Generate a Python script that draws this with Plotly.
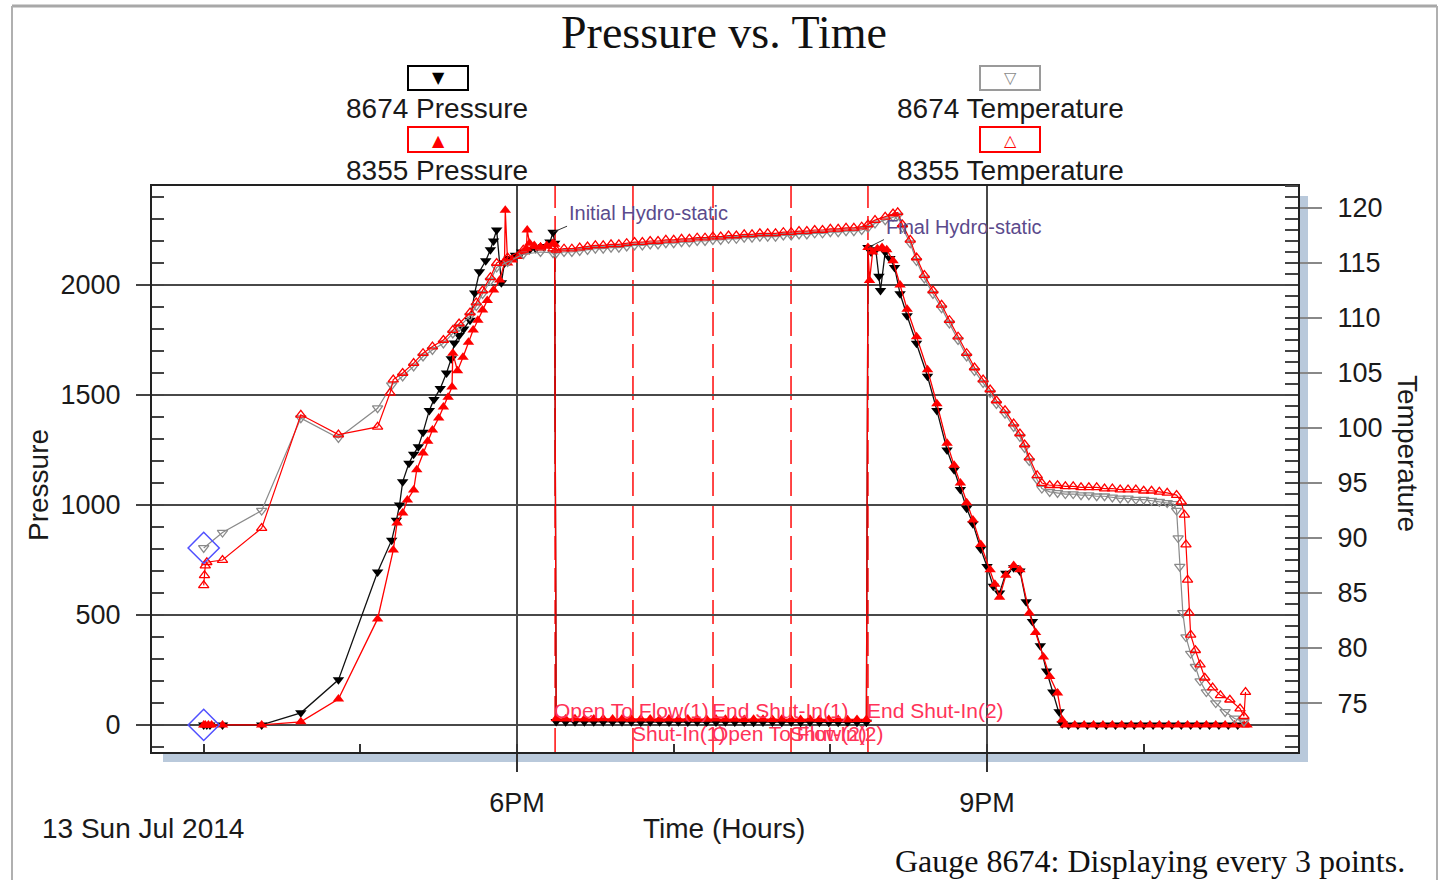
import plotly.graph_objects as go

# ---------------- data (time in decimal hours, 13 Jul 2014) ----------------
t_p8674 = [16.00, 16.02, 16.04, 16.12, 16.37, 16.62, 16.86, 17.11, 17.20, 17.23,
           17.25, 17.27, 17.31, 17.34, 17.37, 17.40, 17.44, 17.47, 17.51, 17.55,
           17.58, 17.60, 17.63, 17.66, 17.70, 17.73, 17.76, 17.80, 17.83, 17.85,
           17.87, 17.90, 17.92, 17.95, 17.99, 18.03, 18.08, 18.12, 18.17, 18.21,
           18.23, 18.24, 18.25, 18.31, 18.37, 18.43, 18.49, 18.55, 18.61, 18.67,
           18.73, 18.79, 18.85, 18.91, 18.97, 19.03, 19.09, 19.15, 19.21, 19.27,
           19.33, 19.39, 19.45, 19.51, 19.57, 19.63, 19.69, 19.75, 19.81, 19.87,
           19.93, 19.99, 20.05, 20.11, 20.17, 20.23, 20.24, 20.26, 20.29, 20.31,
           20.32, 20.35, 20.38, 20.41, 20.445, 20.49, 20.55, 20.62, 20.68, 20.745,
           20.79, 20.83, 20.87, 20.91, 20.96, 21.00, 21.04, 21.08, 21.12, 21.17,
           21.21, 21.25, 21.29, 21.34, 21.38, 21.42, 21.46, 21.48, 21.52, 21.58,
           21.64, 21.70, 21.76, 21.82, 21.88, 21.94, 22.00, 22.06, 22.12, 22.18,
           22.24, 22.30, 22.36, 22.42, 22.48, 22.54, 22.60]
p8674 = [0, 0, 0, 0, 0, 55, 205, 695, 840, 930,
         1000, 1105, 1190, 1230, 1265, 1330, 1430, 1480, 1530, 1600,
         1665, 1736, 1770, 1800, 1840, 1964, 2060, 2110, 2160, 2200,
         2250, 2010, 2100, 2120, 2135, 2150, 2160, 2165, 2175, 2195,
         2240, 2190, 16, 15, 15, 14, 15, 14, 14, 15,
         14, 13, 14, 14, 13, 14, 13, 14, 13, 13,
         14, 13, 13, 12, 13, 13, 12, 13, 12, 13,
         12, 12, 12, 12, 12, 12, 2170, 2150, 2160, 2040,
         1975, 2150, 2120, 2080, 1960, 1860, 1735, 1585, 1430, 1250,
         1160, 1070, 985, 915, 800, 720, 630, 600, 690, 715,
         700, 560, 470, 360, 245, 150, 60, 5, 0, 0,
         0, 0, 0, 0, 0, 0, 0, 0, 0, 0,
         0, 0, 0, 0, 0, 0, 0]

t_p8355 = [16.00, 16.01, 16.03, 16.05, 16.12, 16.37, 16.62, 16.86, 17.11, 17.21,
           17.234, 17.27, 17.30, 17.34, 17.36, 17.40, 17.43, 17.46, 17.50, 17.53,
           17.56, 17.585, 17.59, 17.62, 17.655, 17.69, 17.72, 17.75, 17.78, 17.81,
           17.85, 17.89, 17.92, 17.925, 17.94, 17.97, 18.01, 18.04, 18.06, 18.065,
           18.08, 18.11, 18.15, 18.19, 18.23, 18.24, 18.25, 18.31, 18.37, 18.43,
           18.49, 18.55, 18.61, 18.67, 18.73, 18.79, 18.85, 18.91, 18.97, 19.03,
           19.09, 19.15, 19.21, 19.27, 19.33, 19.39, 19.45, 19.51, 19.57, 19.63,
           19.69, 19.75, 19.81, 19.87, 19.93, 19.99, 20.05, 20.11, 20.17, 20.23,
           20.24, 20.25, 20.27, 20.30, 20.33, 20.36, 20.40, 20.445, 20.49, 20.55,
           20.62, 20.68, 20.745, 20.79, 20.83, 20.87, 20.91, 20.96, 21.02, 21.05,
           21.08, 21.12, 21.17, 21.21, 21.27, 21.31, 21.36, 21.40, 21.45, 21.48,
           21.50, 21.56, 21.62, 21.68, 21.74, 21.80, 21.86, 21.92, 21.98, 22.04,
           22.10, 22.16, 22.22, 22.28, 22.34, 22.40, 22.46, 22.52, 22.58, 22.64,
           22.66]
p8355 = [0, 0, 0, 0, 0, 0, 14, 118, 482, 795,
         918, 964, 1023, 1068, 1160, 1236, 1290, 1341, 1395, 1445,
         1490, 1536, 1690, 1610, 1672, 1740, 1795, 1840, 1886, 1930,
         1977, 2023, 2100, 2340, 2100, 2114, 2130, 2150, 2165, 2250,
         2190, 2180, 2173, 2180, 2190, 2185, 28, 27, 28, 27,
         27, 28, 27, 27, 26, 27, 27, 26, 27, 26,
         27, 26, 26, 27, 26, 26, 25, 26, 26, 25,
         26, 25, 25, 26, 25, 25, 25, 24, 25, 25,
         2170, 2020, 2150, 2165, 2170, 2160, 2110, 2000, 1890, 1765,
         1615, 1460, 1280, 1180, 1100, 1010, 932, 820, 705, 640,
         580, 680, 725, 705, 509, 420, 309, 220, 145, 23,
         0, 0, 0, 0, 0, 0, 0, 0, 0, 0,
         0, 0, 0, 0, 0, 0, 0, 0, 0, 0,
         0]

t_t8674 = [16.00, 16.12, 16.37, 16.62, 16.86, 17.11, 17.20, 17.27, 17.34, 17.40,
           17.46, 17.53, 17.59, 17.63, 17.70, 17.74, 17.78, 17.83, 17.87, 17.94,
           18.04, 18.15, 18.23, 18.25, 18.30, 18.35, 18.40, 18.45, 18.50, 18.55,
           18.60, 18.65, 18.70, 18.75, 18.80, 18.85, 18.90, 18.95, 19.00, 19.05,
           19.10, 19.15, 19.20, 19.25, 19.30, 19.35, 19.40, 19.45, 19.50, 19.55,
           19.60, 19.65, 19.70, 19.75, 19.80, 19.85, 19.90, 19.95, 20.00, 20.05,
           20.10, 20.15, 20.20, 20.24, 20.285, 20.35, 20.40, 20.43, 20.46, 20.51,
           20.55, 20.60, 20.655, 20.71, 20.76, 20.815, 20.87, 20.92, 20.975, 21.02,
           21.06, 21.115, 21.17, 21.21, 21.24, 21.27, 21.32, 21.35, 21.40, 21.45,
           21.50, 21.55, 21.60, 21.65, 21.70, 21.75, 21.80, 21.85, 21.90, 21.95,
           22.00, 22.05, 22.10, 22.15, 22.19, 22.21, 22.22, 22.23, 22.25, 22.27,
           22.30, 22.33, 22.36, 22.40, 22.46, 22.52, 22.58, 22.64]
t8674 = [89.1, 90.5, 92.5, 100.9, 99.1, 101.8, 103.9, 104.7, 105.6, 106.5,
         107.1, 107.7, 108.6, 109.2, 110.2, 111.1, 112.2, 113.4, 114.6, 115.1,
         115.8, 116.0, 115.9, 115.9, 116.0, 116.0, 116.1, 116.2, 116.3, 116.3,
         116.4, 116.4, 116.5, 116.6, 116.6, 116.7, 116.7, 116.8, 116.8, 116.9,
         116.9, 117.0, 117.0, 117.1, 117.1, 117.2, 117.2, 117.3, 117.3, 117.4,
         117.4, 117.4, 117.5, 117.5, 117.6, 117.6, 117.7, 117.7, 117.8, 117.8,
         117.9, 117.9, 118.0, 118.2, 118.6, 118.9, 119.2, 119.3, 118.2, 116.8,
         115.2, 113.6, 112.2, 110.9, 109.5, 108.0, 106.5, 105.2, 104.1, 103.2,
         102.2, 101.3, 100.1, 99.2, 98.2, 97.0, 95.3, 94.5, 94.2, 94.1,
         94.0, 94.0, 93.9, 93.9, 93.8, 93.8, 93.7, 93.6, 93.6, 93.5,
         93.5, 93.4, 93.3, 93.2, 93.1, 92.5, 90.0, 87.4, 83.2, 81.0,
         79.5, 78.3, 77.0, 76.0, 75.0, 74.2, 73.6, 73.3]

t_t8355 = [16.00, 16.005, 16.01, 16.02, 16.12, 16.37, 16.62, 16.86, 17.11, 17.19,
           17.21, 17.27, 17.34, 17.40, 17.46, 17.53, 17.59, 17.63, 17.70, 17.74,
           17.78, 17.83, 17.87, 17.94, 18.04, 18.15, 18.23, 18.25, 18.30, 18.35,
           18.40, 18.45, 18.50, 18.55, 18.60, 18.65, 18.70, 18.75, 18.80, 18.85,
           18.90, 18.95, 19.00, 19.05, 19.10, 19.15, 19.20, 19.25, 19.30, 19.35,
           19.40, 19.45, 19.50, 19.55, 19.60, 19.65, 19.70, 19.75, 19.80, 19.85,
           19.90, 19.95, 20.00, 20.05, 20.10, 20.15, 20.20, 20.24, 20.285, 20.35,
           20.40, 20.43, 20.46, 20.51, 20.55, 20.60, 20.655, 20.71, 20.76, 20.815,
           20.87, 20.92, 20.975, 21.02, 21.06, 21.115, 21.17, 21.21, 21.24, 21.27,
           21.32, 21.35, 21.40, 21.45, 21.50, 21.55, 21.60, 21.65, 21.70, 21.75,
           21.80, 21.85, 21.90, 21.95, 22.00, 22.05, 22.10, 22.15, 22.21, 22.24,
           22.26, 22.27, 22.28, 22.29, 22.30, 22.33, 22.36, 22.39, 22.44, 22.49,
           22.55, 22.615, 22.64, 22.65]
t8355 = [85.7, 86.6, 87.5, 87.8, 88.0, 90.9, 101.2, 99.4, 100.1, 103.2,
         104.4, 105.0, 105.9, 106.8, 107.4, 108.0, 108.9, 109.5, 110.5, 111.4,
         112.5, 113.7, 115.0, 115.5, 116.2, 116.4, 116.3, 116.2, 116.3, 116.3,
         116.4, 116.5, 116.6, 116.6, 116.7, 116.7, 116.8, 116.9, 116.9, 117.0,
         117.0, 117.1, 117.1, 117.2, 117.2, 117.3, 117.3, 117.4, 117.4, 117.5,
         117.5, 117.6, 117.6, 117.7, 117.7, 117.7, 117.8, 117.8, 117.9, 117.9,
         118.0, 118.0, 118.1, 118.1, 118.2, 118.2, 118.3, 118.5, 118.9, 119.2,
         119.5, 119.6, 118.5, 117.1, 115.5, 113.9, 112.5, 111.2, 109.8, 108.3,
         106.8, 105.5, 104.4, 103.5, 102.5, 101.6, 100.4, 99.5, 98.5, 97.3,
         95.7, 95.0, 94.8, 94.8, 94.7, 94.7, 94.6, 94.6, 94.6, 94.5,
         94.5, 94.4, 94.4, 94.4, 94.3, 94.3, 94.2, 94.1, 93.9, 93.3,
         92.1, 89.4, 86.2, 83.2, 81.2, 79.8, 78.5, 77.3, 76.4, 75.7,
         75.3, 74.5, 73.8, 76.0]

event_names = ["Open To Flow(1)", "Shut-In(1)", "End Shut-In(1)",
               "Open To Flow(2)", "Shut-In(2)", "End Shut-In(2)"]
event_times = [18.243, 18.740, 19.251, 19.251, 19.749, 20.240]
event_row = [0, 1, 0, 1, 1, 0]   # 0 = upper label row, 1 = lower label row

series_names = ["8674 Pressure", "8355 Pressure", "8674 Temperature", "8355 Temperature"]

# ---------------- layout helpers (pixel -> paper) ----------------
W, H = 1442, 880
L, R, T, B = 152, 1298, 186, 752


def px(x):
    return (x - L) / (R - L)


def py(y):
    return (B - y) / (B - T)


SANS = "Liberation Sans, Arial, sans-serif"
SERIF = "Liberation Serif, Times New Roman, serif"
RED = "#ff0000"
GRAY = "#8a8a8a"
EVT = "#ff3358"

fig = go.Figure()

fig.add_trace(go.Scatter(
    x=t_t8674, y=t8674, yaxis="y2", mode="lines+markers", name=series_names[2],
    line=dict(color=GRAY, width=1.2),
    marker=dict(symbol="triangle-down-open", size=9, color=GRAY, line=dict(width=1.3))))
fig.add_trace(go.Scatter(
    x=t_t8355, y=t8355, yaxis="y2", mode="lines+markers", name=series_names[3],
    line=dict(color=RED, width=1.2),
    marker=dict(symbol="triangle-up-open", size=9, color=RED, line=dict(width=1.3))))
fig.add_trace(go.Scatter(
    x=t_p8674, y=p8674, mode="lines+markers", name=series_names[0],
    line=dict(color="#111111", width=1.3),
    marker=dict(symbol="triangle-down", size=10, color="#000000")))
fig.add_trace(go.Scatter(
    x=t_p8355, y=p8355, mode="lines+markers", name=series_names[1],
    line=dict(color=RED, width=1.3),
    marker=dict(symbol="triangle-up", size=10, color=RED)))

# start-point diamonds
fig.add_trace(go.Scatter(
    x=[t_p8674[0]], y=[p8674[0]], mode="markers",
    marker=dict(symbol="diamond-open", size=24, color="#5050ff", line=dict(width=1.5))))
fig.add_trace(go.Scatter(
    x=[t_t8674[0]], y=[t8674[0]], yaxis="y2", mode="markers",
    marker=dict(symbol="diamond-open", size=24, color="#5050ff", line=dict(width=1.5))))

shapes = [
    dict(type="rect", xref="paper", yref="paper", x0=px(163), x1=px(1308), y0=py(762), y1=py(196),
         fillcolor="#b9c9db", line=dict(width=0), layer="below"),
    dict(type="rect", xref="paper", yref="paper", x0=0, x1=1, y0=0, y1=1,
         fillcolor="white", line=dict(width=0), layer="below"),
    # outer frame
    dict(type="line", xref="paper", yref="paper", x0=px(12), x1=px(1437), y0=py(6), y1=py(6),
         line=dict(color="#a8a8a8", width=3)),
    dict(type="line", xref="paper", yref="paper", x0=px(12), x1=px(12), y0=py(6), y1=py(880),
         line=dict(color="#b0b0b0", width=2)),
    dict(type="line", xref="paper", yref="paper", x0=px(1437), x1=px(1437), y0=py(6), y1=py(880),
         line=dict(color="#b0b0b0", width=2)),
]
for tm in sorted(set(event_times)):
    shapes.append(dict(type="line", xref="x", yref="paper", x0=tm, x1=tm, y0=0, y1=1,
                       line=dict(color="rgba(255,0,0,0.9)", width=1.6, dash="24px,8px"),
                       layer="below"))

# legend boxes
legend_boxes = [(408, 66, 468, 90, "#000000"), (408, 127, 468, 152, RED),
                (980, 66, 1040, 90, "#9a9a9a"), (980, 127, 1040, 152, RED)]
for x0, y0, x1, y1, c in legend_boxes:
    shapes.append(dict(type="rect", xref="paper", yref="paper", x0=px(x0), x1=px(x1),
                       y0=py(y1), y1=py(y0), line=dict(color=c, width=2), fillcolor="white"))

ann = []


def txt(x, y, s, size=28, color="#1a1a1a", family=SANS, xanchor="center", angle=0):
    ann.append(dict(xref="paper", yref="paper", x=px(x), y=py(y), text=s, showarrow=False,
                    xanchor=xanchor, yanchor="middle", textangle=angle,
                    font=dict(size=size, color=color, family=family)))


txt(724, 32, "Pressure vs. Time", size=46, family=SERIF, color="#111111")
txt(437, 109, series_names[0])
txt(437, 170, series_names[1])
txt(1010, 109, series_names[2])
txt(1010, 170, series_names[3])
txt(438, 78, "▼", size=16, color="#000000", family="DejaVu Sans")
txt(438, 140, "▲", size=16, color=RED, family="DejaVu Sans")
txt(1010, 78, "▽", size=16, color="#8a8a8a", family="DejaVu Sans")
txt(1010, 140, "△", size=16, color=RED, family="DejaVu Sans")
txt(38, 485, "Pressure", angle=-90)
txt(1408, 453, "Temperature", angle=90)
txt(40, 828, "13 Sun Jul 2014", xanchor="left")
txt(724, 828, "Time (Hours)")
txt(1407, 861, "Gauge 8674: Displaying every 3 points.", size=32, family=SERIF,
    xanchor="right", color="#111111")

row_y = [710, 733]
for name, tm, rw in zip(event_names, event_times, event_row):
    ann.append(dict(xref="x", yref="paper", x=tm, y=py(row_y[rw]), text=name, showarrow=False,
                    xanchor="left", yanchor="middle", xshift=-3,
                    font=dict(size=21, color=EVT, family=SANS)))

# hydrostatic annotations (arrow to the data point)
i_init = max(range(len(t_p8674)), key=lambda i: p8674[i] if 18.1 < t_p8674[i] < 18.25 else -1)
ann.append(dict(xref="x", yref="y", x=t_p8674[i_init], y=p8674[i_init], text="Initial Hydro-static",
                showarrow=True, arrowhead=0, arrowwidth=1, arrowcolor="#333333", ax=14, ay=-6,
                xanchor="left", yanchor="bottom", font=dict(size=20, color="#5b4a8c", family=SANS)))
i_fin = t_p8674.index(20.24)
ann.append(dict(xref="x", yref="y", x=t_p8674[i_fin], y=p8674[i_fin], text="Final Hydro-static",
                showarrow=True, arrowhead=0, arrowwidth=1, arrowcolor="#333333", ax=16, ay=-8,
                xanchor="left", yanchor="bottom", font=dict(size=20, color="#5b4a8c", family=SANS)))

fig.update_layout(
    width=W, height=H,
    margin=dict(l=L, r=W - R, t=T, b=H - B, pad=0),
    paper_bgcolor="white", plot_bgcolor="white", showlegend=False,
    font=dict(family=SANS, size=27, color="#1a1a1a"),
    xaxis=dict(range=[15.67, 22.985], tickmode="linear", tick0=18, dtick=3,
               labelalias={18: "6PM", 21: "9PM"},
               ticks="outside", ticklen=18, tickwidth=1.5, tickcolor="#333333",
               showgrid=True, gridcolor="#484848", gridwidth=1.5,
               showline=True, linecolor="#222222", linewidth=2, mirror=True, zeroline=False,
               ticklabelstandoff=8,
               minor=dict(tickmode="linear", tick0=16, dtick=1, ticks="inside", ticklen=8,
                          tickcolor="#333333", tickwidth=1.5, showgrid=False)),
    yaxis=dict(range=[-123, 2450], tickmode="linear", tick0=0, dtick=500,
               ticks="outside", ticklen=14, tickwidth=1.5, tickcolor="#444444",
               showgrid=True, gridcolor="#484848", gridwidth=1.5,
               showline=True, linecolor="#222222", linewidth=2, zeroline=False,
               ticklabelstandoff=10,
               minor=dict(tickmode="linear", tick0=0, dtick=100, ticks="inside", ticklen=12,
                          tickcolor="#444444", tickwidth=1.5, showgrid=False)),
    yaxis2=dict(range=[70.55, 122.0], overlaying="y", side="right",
                tickmode="linear", tick0=0, dtick=5,
                ticks="outside", ticklen=22, tickwidth=1.5, tickcolor="#888888",
                showgrid=False, showline=True, linecolor="#222222", linewidth=2, zeroline=False,
                ticklabelstandoff=10,
                minor=dict(tickmode="linear", tick0=0, dtick=1, ticks="inside", ticklen=13,
                           tickcolor="#444444", tickwidth=1.5, showgrid=False)),
    shapes=shapes,
    annotations=ann,
)

fig.write_html("out.html", config={"displayModeBar": False},
               post_script="document.body.style.margin='0';")
